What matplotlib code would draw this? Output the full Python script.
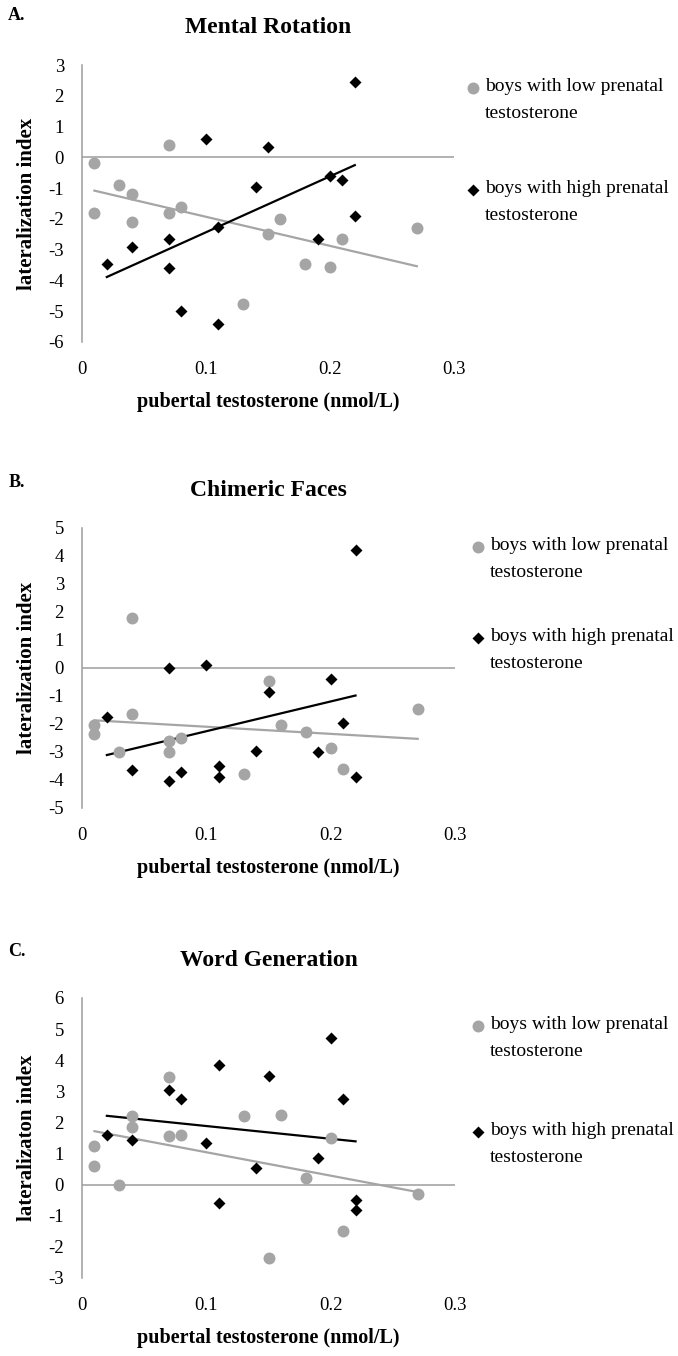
import numpy as np
import matplotlib
matplotlib.use("Agg")
import matplotlib.pyplot as plt

plt.rcParams['font.family'] = ['Liberation Serif', 'DejaVu Serif']
plt.rcParams['axes.unicode_minus'] = False

# pubertal testosterone (nmol/L)
x_low = [0.01, 0.01, 0.03, 0.04, 0.04, 0.07, 0.07, 0.08, 0.13, 0.15, 0.16, 0.18, 0.20, 0.21, 0.27]
x_high = [0.02, 0.04, 0.07, 0.07, 0.08, 0.10, 0.11, 0.11, 0.14, 0.15, 0.19, 0.20, 0.21, 0.22, 0.22]
x_high_wg = [0.02, 0.04, 0.07, 0.08, 0.10, 0.11, 0.11, 0.14, 0.15, 0.19, 0.20, 0.21, 0.22, 0.22]

# lateralization index, A. mental rotation
mr_low = [-0.2, -1.8, -0.9, -1.2, -2.1, 0.4, -1.8, -1.6, -4.75, -2.5, -2.0, -3.45, -3.55, -2.65, -2.3]
mr_high = [-3.45, -2.9, -2.65, -3.6, -5.0, 0.6, -2.25, -5.4, -0.95, 0.35, -2.65, -0.6, -0.75, -1.9, 2.45]

# B. chimeric faces
cf_low = [-2.05, -2.35, -3.0, 1.8, -1.65, -2.6, -3.0, -2.5, -3.8, -0.45, -2.05, -2.3, -2.85, -3.6, -1.45]
cf_high = [-1.75, -3.65, 0.0, -4.05, -3.7, 0.1, -3.5, -3.9, -2.95, -0.85, -3.0, -0.4, -1.95, -3.9, 4.2]

# C. word generation
wg_low = [1.25, 0.6, 0.0, 2.2, 1.85, 3.45, 1.55, 1.6, 2.2, -2.35, 2.25, 0.2, 1.5, -1.5, -0.3]
wg_high = [1.6, 1.45, 3.05, 2.75, 1.35, 3.85, -0.6, 0.55, 3.5, 0.85, 4.7, 2.75, -0.5, -0.8]

letters = ['A.', 'B.', 'C.']
titles = ['Mental Rotation', 'Chimeric Faces', 'Word Generation']
ylabels = ['lateralization index', 'lateralization index', 'lateralizaton index']
ylims = [(-6, 3), (-5, 5), (-3, 6)]
xticks = [0, 0.1, 0.2, 0.3]
xtick_labels = ['0', '0.1', '0.2', '0.3']
leg_low = 'boys with low prenatal\ntestosterone'
leg_high = 'boys with high prenatal\ntestosterone'

panels = [
    (x_low, mr_low, x_high, mr_high),
    (x_low, cf_low, x_high, cf_high),
    (x_low, wg_low, x_high_wg, wg_high),
]

W, H = 678, 1356
# axes boxes in pixels: left, top, right, bottom
boxes = [(82, 65, 454, 342), (82, 528, 455, 808), (82, 998, 455, 1278)]
letter_y = [15, 482, 952]
# legend marker positions in pixels (x, y low, y high)
legpos = [(473, 88, 190), (478, 547, 638), (478, 1026, 1132)]

gray = '#a5a5a5'
axis_gray = '#9d9d9d'
circ_ms = 8.6
dia_ms = 6.4

fig = plt.figure(figsize=(W / 100, H / 100), dpi=100)

for i, (xl, yl, xh, yh) in enumerate(panels):
    l, t, r, b = boxes[i]
    ax = fig.add_axes([l / W, 1 - b / H, (r - l) / W, (b - t) / H])
    ax.set_xlim(0, 0.3)
    ax.set_ylim(*ylims[i])

    ax.plot(xl, yl, 'o', color=gray, ms=circ_ms, mec='none', zorder=3)
    ax.plot(xh, yh, 'D', color='black', ms=dia_ms, mec='none', zorder=4)

    # linear trendlines
    for xs, ys, c in [(xl, yl, gray), (xh, yh, 'black')]:
        k, m = np.polyfit(xs, ys, 1)
        xx = np.array([min(xs), max(xs)])
        ax.plot(xx, k * xx + m, color=c, lw=1.6, zorder=2)

    ax.axhline(0, color=axis_gray, lw=1.1, zorder=1)
    for s in ['top', 'right', 'bottom']:
        ax.spines[s].set_visible(False)
    ax.spines['left'].set_color(axis_gray)
    ax.spines['left'].set_linewidth(1.1)

    lo, hi = ylims[i]
    yt = list(range(lo, hi + 1))
    ax.set_yticks(yt)
    ax.set_yticklabels([str(v) for v in yt])
    ax.set_xticks(xticks)
    ax.set_xticklabels(xtick_labels)
    ax.tick_params(axis='y', length=0, pad=13, labelsize=13.5)
    ax.tick_params(axis='x', length=0, pad=14, labelsize=13.5)

    ax.text(0.5, 1.135, titles[i], transform=ax.transAxes, ha='center', va='center',
            fontsize=17, fontweight='bold')
    ax.text(-0.148, 0.5, ylabels[i], transform=ax.transAxes, ha='center', va='center',
            rotation=90, fontsize=15, fontweight='bold')
    ax.text(0.5, -0.215, 'pubertal testosterone (nmol/L)', transform=ax.transAxes,
            ha='center', va='center', fontsize=14.5, fontweight='bold')
    fig.text(17 / W, 1 - letter_y[i] / H, letters[i], ha='center', va='center',
             fontsize=13, fontweight='bold')

    # legend
    lx, ly1, ly2 = legpos[i]
    for ly, mk, c, ms, lab in [(ly1, 'o', gray, circ_ms, leg_low), (ly2, 'D', 'black', dia_ms, leg_high)]:
        fx, fy = lx / W, 1 - ly / H
        fig.add_artist(plt.Line2D([fx], [fy], marker=mk, color=c, ms=ms, mec='none',
                                  transform=fig.transFigure))
        fig.text(fx + 12 / W, fy + 10 / H, lab, ha='left', va='top', fontsize=14,
                 linespacing=1.75)

fig.savefig('out.png', dpi=100)
